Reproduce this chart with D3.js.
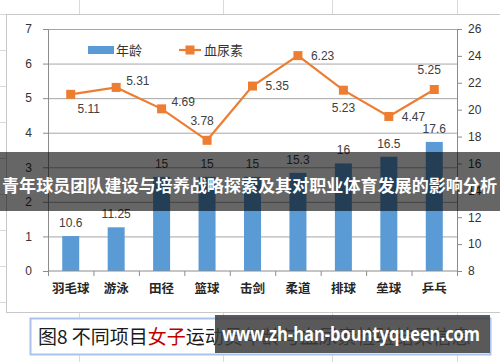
<!DOCTYPE html>
<html>
<head>
<meta charset="utf-8">
<script src="https://cdn.jsdelivr.net/npm/d3@7"></script>
<style>
  body { margin: 0; background: #fff; }
  svg { display: block; }
</style>
</head>
<body>
<div class="chart"></div>
<script>
// data
const sports = ["羽毛球", "游泳", "田径", "篮球", "击剑", "柔道", "排球", "垒球", "乒乓"]
const age = [10.6, 11.25, 15, 15, 15, 15.3, 16, 16.5, 17.6]
const urea = [5.11, 5.31, 4.69, 3.78, 5.35, 6.23, 5.23, 4.47, 5.25]
const leftTicks = [0, 1, 2, 3, 4, 5, 6, 7]
const rightTicks = [8, 10, 12, 14, 16, 18, 20, 22, 24, 26]
const legendNames = ["年龄", "血尿素"]
// where each urea label sits around its point
const ureaLabelSide = ["belowRight", "aboveRight", "aboveRight", "above", "right", "right", "below", "right", "above"]

const w = 500, h = 362
const plotL = 48, plotR = 457, plotT = 29, plotB = 271
const blue = "#5b9bd5", orange = "#ed7d31"
const numFont = "'Liberation Sans', Arial, sans-serif"
const cjkFont = "'Noto Sans CJK SC', sans-serif"

const svg = d3.select(".chart").append("svg")
  .attr("width", w).attr("height", h)

// spreadsheet cell lines behind the chart
const sheet = svg.append("g").attr("stroke", "#d9d9d9").attr("stroke-width", 1)
;[79, 223, 332, 457].forEach(x => {
  sheet.append("line").attr("x1", x + .5).attr("x2", x + .5).attr("y1", 0).attr("y2", h)
})
;[14, 50, 86, 122, 158, 194, 230, 266, 302].forEach(y => {
  sheet.append("line").attr("x1", 0).attr("x2", 6).attr("y1", y + .5).attr("y2", y + .5)
})

// chart frame
svg.append("rect")
  .attr("x", 6.5).attr("y", 14.5).attr("width", 510).attr("height", 298)
  .attr("fill", "#fff").attr("stroke", "#c8c8c8")

const x = d3.scaleBand().domain(sports).range([plotL, plotR])
const yL = d3.scaleLinear().domain([0, 7]).range([plotB, plotT])
const yR = d3.scaleLinear().domain([8, 26]).range([plotB, plotT])

// gridlines
svg.append("g")
  .attr("transform", `translate(${plotL},0)`)
  .call(d3.axisLeft(yL).tickValues(leftTicks.slice(1)).tickSize(-(plotR - plotL)).tickFormat(""))
  .call(g => g.select(".domain").remove())
  .call(g => g.selectAll("line").attr("stroke", "#a6a6a6"))

// bars
svg.selectAll(".bar")
  .data(age)
  .enter()
  .append("rect")
  .attr("class", "bar")
  .attr("x", (d, i) => x(sports[i]) + x.bandwidth() / 2 - 8.5)
  .attr("width", 17)
  .attr("y", d => yR(d))
  .attr("height", d => plotB - yR(d))
  .attr("fill", blue)

svg.selectAll(".barlabel")
  .data(age)
  .enter()
  .append("text")
  .attr("x", (d, i) => x(sports[i]) + x.bandwidth() / 2)
  .attr("y", d => yR(d) - 9)
  .attr("text-anchor", "middle")
  .style("font-family", numFont).style("font-size", "12px").attr("fill", "#404040")
  .text(d => d)

// left axis
svg.append("g")
  .attr("transform", `translate(${plotL},0)`)
  .call(d3.axisLeft(yL).tickValues(leftTicks).tickFormat(d3.format("d")).tickSize(5).tickPadding(11).tickSizeOuter(0))
  .call(g => g.select(".domain").attr("stroke", "#8c8c8c"))
  .call(g => g.selectAll("line").attr("stroke", "#8c8c8c"))
  .call(g => g.selectAll("text").style("font-family", numFont).style("font-size", "12px").attr("fill", "#333"))

// right axis
svg.append("g")
  .attr("transform", `translate(${plotR},0)`)
  .call(d3.axisRight(yR).tickValues(rightTicks).tickSize(5).tickPadding(6).tickSizeOuter(0))
  .call(g => g.select(".domain").attr("stroke", "#8c8c8c"))
  .call(g => g.selectAll("line").attr("stroke", "#8c8c8c"))
  .call(g => g.selectAll("text").style("font-family", numFont).style("font-size", "12px").attr("fill", "#333"))

// bottom axis, ticks between categories
const xAxis = svg.append("g").attr("transform", `translate(0,${plotB})`)
xAxis.append("line").attr("x1", plotL).attr("x2", plotR).attr("stroke", "#8c8c8c")
xAxis.selectAll(".xt")
  .data(sports.concat(["end"]))
  .enter()
  .append("line")
  .attr("x1", (d, i) => i < sports.length ? x(d) + .5 : plotR + .5)
  .attr("x2", (d, i) => i < sports.length ? x(d) + .5 : plotR + .5)
  .attr("y1", 0).attr("y2", 5).attr("stroke", "#8c8c8c")
xAxis.selectAll(".xl")
  .data(sports)
  .enter()
  .append("text")
  .attr("x", d => x(d) + x.bandwidth() / 2)
  .attr("y", 22)
  .attr("text-anchor", "middle")
  .style("font-family", cjkFont).style("font-size", "12.5px").style("font-weight", "bold")
  .attr("fill", "#262626")
  .text(d => d)

// urea line
const cx = (d, i) => x(sports[i]) + x.bandwidth() / 2
svg.append("path")
  .datum(urea)
  .attr("fill", "none").attr("stroke", orange).attr("stroke-width", 2.2)
  .attr("d", d3.line().x(cx).y(d => yL(d)))
svg.selectAll(".mark")
  .data(urea)
  .enter()
  .append("rect")
  .attr("x", (d, i) => cx(d, i) - 4.5).attr("y", d => yL(d) - 4.5)
  .attr("width", 9).attr("height", 9).attr("fill", orange)

const labelShift = {
  belowRight: [18, 14, "middle"],
  below: [0, 18, "middle"],
  above: [-5, -20, "middle"],
  aboveRight: [10, -7, "start"],
  right: [13, 0, "start"]
}
svg.selectAll(".urealabel")
  .data(urea)
  .enter()
  .append("text")
  .attr("x", (d, i) => cx(d, i) + labelShift[ureaLabelSide[i]][0])
  .attr("y", (d, i) => yL(d) + labelShift[ureaLabelSide[i]][1])
  .attr("dy", "0.35em")
  .attr("text-anchor", (d, i) => labelShift[ureaLabelSide[i]][2])
  .style("font-family", numFont).style("font-size", "12px").attr("fill", "#404040")
  .text(d => d.toFixed(2))

// legend
const legend = svg.append("g")
legend.append("rect").attr("x", 88).attr("y", 46).attr("width", 26).attr("height", 8).attr("fill", blue)
legend.append("text").attr("x", 116).attr("y", 50).attr("dy", "0.35em")
  .style("font-family", cjkFont).style("font-size", "13px").attr("fill", "#333").text(legendNames[0])
legend.append("line").attr("x1", 179).attr("x2", 201).attr("y1", 50).attr("y2", 50)
  .attr("stroke", orange).attr("stroke-width", 2.2)
legend.append("rect").attr("x", 185.5).attr("y", 45.5).attr("width", 9).attr("height", 9).attr("fill", orange)
legend.append("text").attr("x", 204).attr("y", 50).attr("dy", "0.35em")
  .style("font-family", cjkFont).style("font-size", "13px").attr("fill", "#333").text(legendNames[1])

// caption box under the chart
svg.append("rect").attr("x", 30.5).attr("y", 318.5).attr("width", 460).attr("height", 36)
  .attr("fill", "#fff").attr("stroke", "#a9c4ec").attr("stroke-width", 2)
const cap = svg.append("text").attr("x", 38).attr("y", 344)
  .style("font-family", cjkFont).style("font-size", "19px").attr("fill", "#1a1a1a")
cap.append("tspan").text("图8 不同项目")
cap.append("tspan").attr("fill", "#c00000").text("女子")
cap.append("tspan").text("运动员年龄与血尿素检验结果信息")

// watermark
svg.append("rect").attr("x", 215).attr("y", 315).attr("width", 275).attr("height", 38)
  .attr("fill", "rgba(60,60,60,0.85)")
svg.append("text").attr("x", 222).attr("y", 341)
  .attr("textLength", 258).attr("lengthAdjust", "spacingAndGlyphs")
  .style("font-family", "'Open Sans', sans-serif").style("font-size", "19px").style("font-weight", "bold")
  .attr("fill", "#fff").text("www.zh-han-bountyqueen.com")

// title banner across the middle
svg.append("rect").attr("x", 0).attr("y", 152).attr("width", w).attr("height", 59)
  .attr("fill", "rgba(0,0,0,0.6)")
svg.append("text").attr("x", 2).attr("y", 186).attr("dy", "0.35em")
  .attr("textLength", 495).attr("lengthAdjust", "spacingAndGlyphs")
  .style("font-family", cjkFont).style("font-size", "16.5px").style("font-weight", "bold")
  .attr("fill", "#fff").text("青年球员团队建设与培养战略探索及其对职业体育发展的影响分析")
</script>
</body>
</html>
